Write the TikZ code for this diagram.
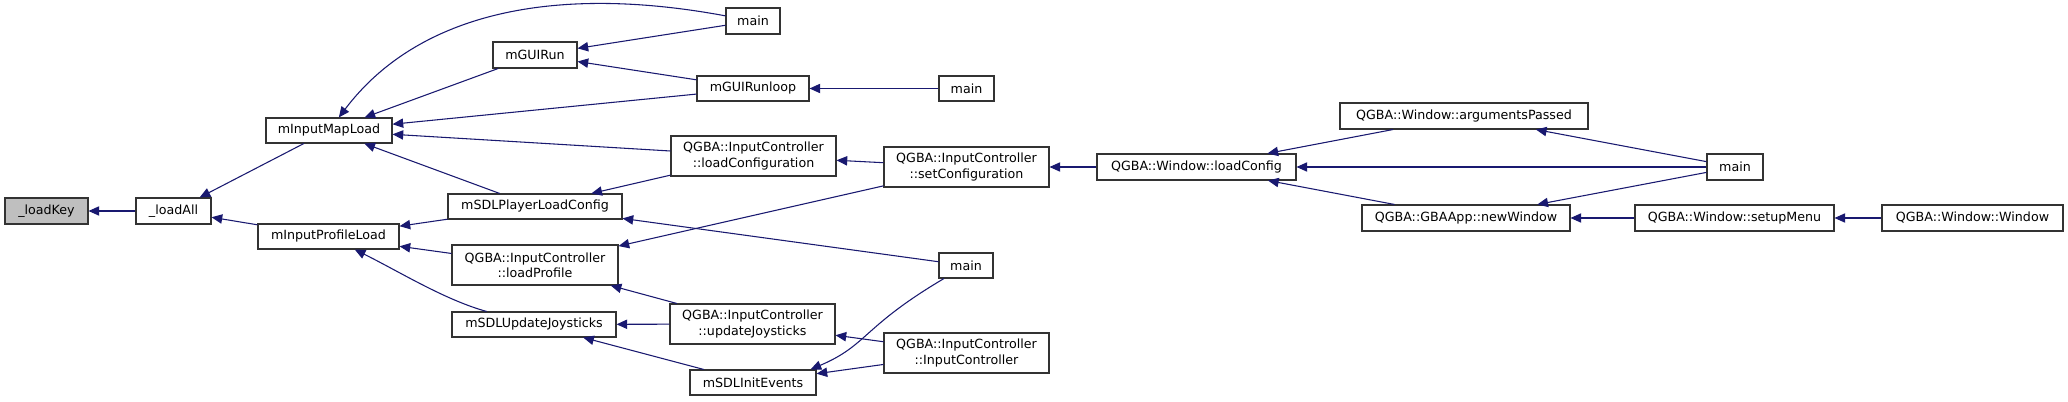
\documentclass[tikz,border=0pt]{standalone}
\usepackage{fontspec}
\setmainfont{DejaVu Sans}
\usetikzlibrary{arrows.meta,calc}
\definecolor{edgeblue}{HTML}{191970}
\definecolor{boxline}{HTML}{333333}
\definecolor{selfill}{HTML}{BFBFBF}
\tikzset{
  fn/.style={draw=boxline, fill=white, line width=0.8pt, inner sep=0pt,
    font=\fontsize{9.5}{11.5}\selectfont, align=center, rectangle},
  bw/.style={minimum width=#1*0.75pt},
  bh/.style={minimum height=#1*0.75pt},
  edge/.style={draw=edgeblue, line width=0.8pt, -{Triangle[length=8pt,width=7pt]}}
}
\begin{document}
\begin{tikzpicture}[x=0.75pt,y=-0.75pt]
\useasboundingbox[fill=white] (0,0) rectangle (2068,402);
% column 0-2
\node[fn, fill=selfill, bw=83, bh=26] (loadkey) at (46.5,211) {\_loadKey};
\node[fn, bw=75, bh=26] (loadall) at (173.5,211) {\_loadAll};
\node[fn, bw=126, bh=25] (mapload) at (329,130.5) {mInputMapLoad};
\node[fn, bw=141, bh=25] (profload) at (328.5,236.5) {mInputProfileLoad};
% column 3
\node[fn, bw=84, bh=26] (guirun) at (535,55) {mGUIRun};
\node[fn, bw=174, bh=25] (sdlplayer) at (535,206.5) {mSDLPlayerLoadConfig};
\node[fn, bw=166, bh=40] (loadprofile) at (535,265) {QGBA::InputController\\::loadProfile};
\node[fn, bw=164, bh=25] (sdlupdate) at (534,324.5) {mSDLUpdateJoysticks};
% column 4
\node[fn, bw=54, bh=26] (main1) at (753,21) {main};
\node[fn, bw=112, bh=25] (guirunloop) at (753,88.5) {mGUIRunloop};
\node[fn, bw=165, bh=40] (loadconf) at (753.5,156) {QGBA::InputController\\::loadConfiguration};
\node[fn, bw=165, bh=40] (updjoy) at (752.5,324) {QGBA::InputController\\::updateJoysticks};
\node[fn, bw=126, bh=25] (sdlinit) at (753,382.5) {mSDLInitEvents};
% column 5
\node[fn, bw=55, bh=25] (main2) at (966.5,88.5) {main};
\node[fn, bw=165, bh=40] (setconf) at (966.5,167) {QGBA::InputController\\::setConfiguration};
\node[fn, bw=54, bh=25] (main3) at (966,265.5) {main};
\node[fn, bw=165, bh=40] (inputctrl) at (966.5,353) {QGBA::InputController\\::InputController};
% column 6-9
\node[fn, bw=199, bh=26] (loadconfig) at (1196.5,167) {QGBA::Window::loadConfig};
\node[fn, bw=248, bh=26] (argpassed) at (1464,116) {QGBA::Window::argumentsPassed};
\node[fn, bw=208, bh=26] (newwindow) at (1466,218) {QGBA::GBAApp::newWindow};
\node[fn, bw=56, bh=26] (main4) at (1735,167) {main};
\node[fn, bw=199, bh=26] (setupmenu) at (1734.5,218) {QGBA::Window::setupMenu};
\node[fn, bw=181, bh=26] (window) at (1972.5,218) {QGBA::Window::Window};
% edges
\draw[edge] (loadall) -- (loadkey);
\draw[edge] (mapload) -- (loadall);
\draw[edge] (profload) -- (loadall);
\draw[edge] (main1) .. controls (560,-15) and (420,10) .. (mapload);
\draw[edge] (guirun) -- (mapload);
\draw[edge] (guirunloop) -- (mapload);
\draw[edge] (loadconf) -- (mapload);
\draw[edge] (sdlplayer) -- (mapload);
\draw[edge] (main1) -- (guirun);
\draw[edge] (guirunloop) -- (guirun);
\draw[edge] (main2) -- (guirunloop);
\draw[edge] (setconf) -- (loadconf);
\draw[edge] (loadconf) -- (sdlplayer);
\draw[edge] (sdlplayer) -- (profload);
\draw[edge] (main3) -- (sdlplayer);
\draw[edge] (loadprofile) -- (profload);
\draw[edge] (setconf) -- (loadprofile);
\draw[edge] (sdlupdate) .. controls (445,300) and (400,272) .. (profload);
\draw[edge] (updjoy) -- (loadprofile);
\draw[edge] (updjoy) -- (sdlupdate);
\draw[edge] (sdlinit) -- (sdlupdate);
\draw[edge] (inputctrl) -- (updjoy);
\draw[edge] (inputctrl) -- (sdlinit);
\draw[edge] (main3) .. controls (862,327) and (868,345) .. ($(sdlinit.north east)+(-6,0)$);
\draw[edge] (loadconfig) -- (setconf);
\draw[edge] (argpassed) -- (loadconfig);
\draw[edge] (main4) -- (loadconfig);
\draw[edge] (newwindow) -- (loadconfig);
\draw[edge] (main4) -- (argpassed);
\draw[edge] (main4) -- (newwindow);
\draw[edge] (setupmenu) -- (newwindow);
\draw[edge] (window) -- (setupmenu);
\end{tikzpicture}
\end{document}
